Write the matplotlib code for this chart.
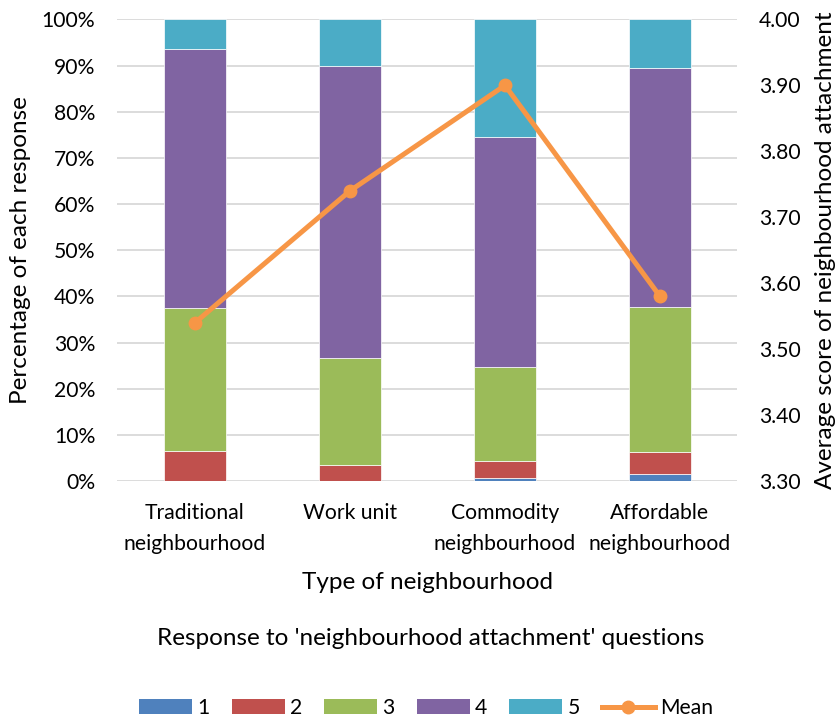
import numpy as np
import matplotlib.pyplot as plt
from matplotlib.patches import Patch
from matplotlib.lines import Line2D

plt.rcParams['font.family'] = ['Lato', 'DejaVu Sans']

categories = ["Traditional\nneighbourhood", "Work unit",
              "Commodity\nneighbourhood", "Affordable\nneighbourhood"]
# share of each response (percent), one list per answer 1..5
resp_1 = [0.0, 0.0, 0.6, 1.5]
resp_2 = [6.5, 3.5, 3.7, 4.85]
resp_3 = [31.0, 23.2, 20.3, 31.35]
resp_4 = [56.0, 63.3, 49.9, 51.8]
resp_5 = [6.5, 10.0, 25.5, 10.5]
mean_score = [3.54, 3.74, 3.90, 3.58]

series = [resp_1, resp_2, resp_3, resp_4, resp_5]
labels = ["1", "2", "3", "4", "5"]
colors = ["#4F81BD", "#C0504D", "#9BBB59", "#8064A2", "#4BACC6"]
line_color = "#F79646"
title_size = 17.5
tick_size = 15.2

fig = plt.figure(figsize=(8.39, 7.19), dpi=100)
ax = fig.add_axes([0.140, 0.331, 0.739, 0.642])
ax2 = ax.twinx()

x = np.arange(len(categories))
bottom = np.zeros(len(categories))
for vals, lab, col in zip(series, labels, colors):
    ax.bar(x, vals, 0.40, bottom=bottom, color=col, edgecolor="white",
           linewidth=0.5, label=lab, zorder=2)
    bottom += np.array(vals)

ax.set_ylim(0, 100)
ax.set_xlim(-0.5, len(categories) - 0.5)
ax.set_yticks(np.arange(0, 101, 10))
ax.set_yticklabels([f"{v}%" for v in range(0, 101, 10)])
ax.yaxis.grid(True, color="#D9D9D9", linewidth=1.3, zorder=0)
ax.set_axisbelow(True)
ax.set_xticks(x)
ax.set_xticklabels(categories, fontsize=tick_size, color="black", linespacing=1.7)
ax.tick_params(axis="y", labelsize=tick_size, colors="black", length=0, pad=16)
ax.tick_params(axis="x", length=0, pad=15.5)
ax.set_ylabel("Percentage of each response", fontsize=title_size, labelpad=8)
ax.set_xlabel("Type of neighbourhood", fontsize=title_size, labelpad=13)

ax2.plot(x, mean_score, color=line_color, linewidth=3.6, marker="o",
         markersize=9, zorder=3)
ax2.set_ylim(3.30, 4.00)
ax2.set_yticks(np.arange(3.30, 4.001, 0.10))
ax2.set_yticklabels([f"{v:.2f}" for v in np.arange(3.30, 4.001, 0.10)])
ax2.tick_params(axis="y", labelsize=tick_size, colors="black", length=0, pad=15.5)
ax2.set_ylabel("Average score of neighbourhood attachment", fontsize=title_size,
               labelpad=10)

for a in (ax, ax2):
    for s in a.spines.values():
        s.set_visible(False)

fig.text(0.513, 0.112, "Response to 'neighbourhood attachment' questions",
         ha="center", va="center", fontsize=title_size)

handles = [Patch(facecolor=c, label=l) for c, l in zip(colors, labels)]
handles.append(Line2D([0], [0], color=line_color, linewidth=3.6, marker="o",
                      markersize=9, label="Mean"))
fig.legend(handles=handles, loc="center", bbox_to_anchor=(0.508, 0.0155),
           ncol=6, frameon=False, fontsize=tick_size, handlelength=2.5,
           handleheight=0.67, handletextpad=0.25, columnspacing=1.05,
           borderpad=0)

fig.savefig("out.png", dpi=100)
